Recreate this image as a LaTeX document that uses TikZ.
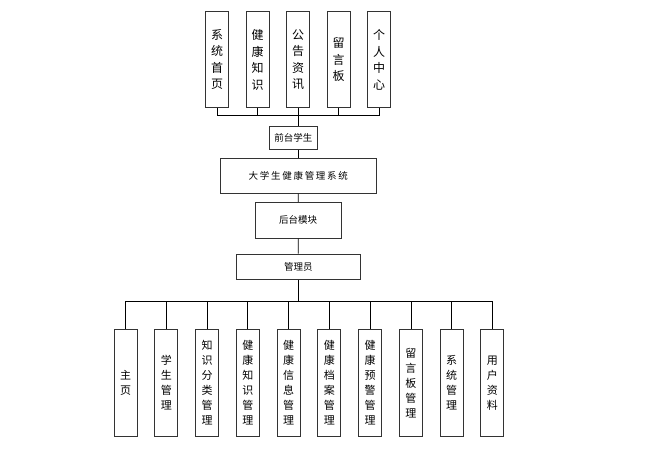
\documentclass[tikz,border=0pt]{standalone}
\usepackage{fontspec}
\setmainfont{Noto Sans CJK SC}
\newfontfamily\cjkwide[LetterSpace=18]{Noto Sans CJK SC}
\begin{document}
\begin{tikzpicture}[x=1pt,y=-1pt,
  box/.style={draw=black!80, line width=0.9pt, fill=white, inner sep=0pt, align=center, text=black},
  topbox/.style={box, minimum width=23pt, minimum height=96pt, font=\fontsize{12}{16.5}\selectfont},
  botbox/.style={box, minimum width=23pt, minimum height=107pt, font=\fontsize{11}{15}\selectfont},
  hbox/.style={box, font=\fontsize{9.5}{11}\selectfont},
  link/.style={draw=black, line width=0.8pt}]
\useasboundingbox (0,0) rectangle (645,457);
% top boxes
\node[topbox] (t1) at (217,59.7) {系\\统\\首\\页};
\node[topbox] (t2) at (257.5,59.7) {健\\康\\知\\识};
\node[topbox] (t3) at (298,59.7) {公\\告\\资\\讯};
\node[topbox] (t4) at (338.5,59.7) {留\\言\\板};
\node[topbox] (t5) at (379,59.7) {个\\人\\中\\心};
\coordinate (topbus) at (298.3,115);
% middle
\node[hbox, minimum width=48.7pt, minimum height=23.3pt] (fs) at (293.3,137.7) {前台学生};
\node[hbox, minimum width=155.3pt, minimum height=35pt] (sys) at (298.3,175.8) {\cjkwide 大学生健康管理系统};
\node[hbox, minimum width=85.7pt, minimum height=36pt] (bk) at (298.2,220.3) {后台模块};
\node[hbox, minimum width=123.3pt, minimum height=25.3pt] (adm) at (298.3,266.7) {管理员};
\coordinate (botbus) at (298.3,301.7);
% bottom boxes
\node[botbox] (b1) at (125.5,383) {主\\页};
\node[botbox] (b2) at (166.3,383) {学\\生\\管\\理};
\node[botbox] (b3) at (207.1,383) {知\\识\\分\\类\\管\\理};
\node[botbox] (b4) at (247.8,383) {健\\康\\知\\识\\管\\理};
\node[botbox] (b5) at (288.6,383) {健\\康\\信\\息\\管\\理};
\node[botbox] (b6) at (329.3,383) {健\\康\\档\\案\\管\\理};
\node[botbox] (b7) at (370.1,383) {健\\康\\预\\警\\管\\理};
\node[botbox] (b8) at (410.9,383) {留\\言\\板\\管\\理};
\node[botbox] (b9) at (451.6,383) {系\\统\\管\\理};
\node[botbox] (b10) at (492.4,383) {用\\户\\资\\料};
% top connectors
\draw[link] (t1.south) -- (t1.south |- topbus) -- (t5.south |- topbus) -- (t5.south);
\foreach \n in {t2,t3,t4} \draw[link] (\n.south) -- (\n.south |- topbus);
\draw[link] (topbus) -- (topbus |- fs.north);
\draw[link] (topbus |- fs.south) -- (topbus |- sys.north);
\draw[link] (sys.south) -- (bk.north);
\draw[link] (bk.south) -- (adm.north);
\draw[link] (adm.south) -- (botbus);
% bottom connectors
\draw[link] (b1.north) -- (b1.north |- botbus) -- (b10.north |- botbus) -- (b10.north);
\foreach \n in {b2,b3,b4,b5,b6,b7,b8,b9} \draw[link] (\n.north) -- (\n.north |- botbus);
\end{tikzpicture}
\end{document}
